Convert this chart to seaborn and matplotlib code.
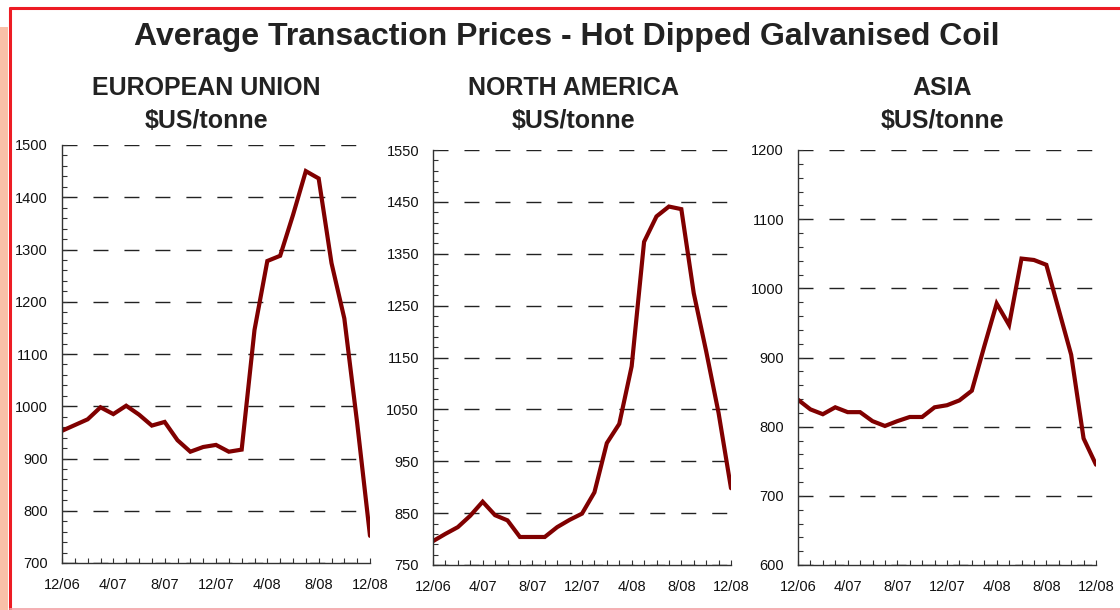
import matplotlib
matplotlib.use("Agg")
import matplotlib.pyplot as plt
import matplotlib.ticker as mticker
import matplotlib.patches as mpatches
import seaborn as sns
import pandas as pd
import numpy as np

months = list(range(25))
tick_positions = [0, 4, 8, 12, 16, 20, 24]
tick_labels = ["12/06", "4/07", "8/07", "12/07", "4/08", "8/08", "12/08"]

eu_prices = [953, 964, 975, 998, 985, 1001, 984, 963, 970, 935, 913, 922, 926,
             913, 917, 1146, 1278, 1288, 1366, 1450, 1436, 1274, 1168, 968, 752]
na_prices = [796, 810, 823, 845, 872, 846, 836, 804, 804, 804, 823, 837, 849,
             890, 985, 1022, 1133, 1373, 1422, 1441, 1436, 1274, 1162, 1043, 898]
asia_prices = [839, 825, 818, 828, 821, 821, 808, 801, 808, 814, 814, 828, 831,
               838, 852, 916, 978, 947, 1043, 1041, 1034, 969, 904, 783, 745]

title = "Average Transaction Prices - Hot Dipped Galvanised Coil"
region_names = ["EUROPEAN UNION", "NORTH AMERICA", "ASIA"]
unit_label = "$US/tonne"

sns.set_theme(style="white")
plt.rcParams["font.family"] = ["Liberation Sans", "DejaVu Sans"]
plt.rcParams["lines.scale_dashes"] = False

fig = plt.figure(figsize=(11.2, 6.1), dpi=100)
fig.patch.set_facecolor("white")

W, H = 1120.0, 610.0

def ax_rect(x0, x1, ytop, ybot):
    return [x0 / W, 1 - ybot / H, (x1 - x0) / W, (ybot - ytop) / H]

panels = [
    (eu_prices, ax_rect(62, 370, 145, 563), (700, 1500), 206),
    (na_prices, ax_rect(433, 731, 150, 565), (750, 1550), 573),
    (asia_prices, ax_rect(798, 1096, 150, 565), (600, 1200), 942),
]

line_color = "#800000"
for (vals, rect, ylim, cx), name in zip(panels, region_names):
    ax = fig.add_axes(rect)
    df = pd.DataFrame({"month": months, "price": vals})
    sns.lineplot(data=df, x="month", y="price", ax=ax, color=line_color,
                 linewidth=3.0, solid_joinstyle="miter")
    ax.set_xlim(0, 24)
    ax.set_ylim(*ylim)
    ax.set_xlabel("")
    ax.set_ylabel("")
    ax.set_facecolor("white")
    lo, hi = ylim
    ax.yaxis.set_major_locator(mticker.FixedLocator(np.arange(lo, hi + 1, 100)))
    ax.yaxis.set_minor_locator(mticker.FixedLocator(np.arange(lo, hi + 1, 20)))
    ax.yaxis.set_major_formatter(mticker.FormatStrFormatter("%d"))
    ax.xaxis.set_major_locator(mticker.FixedLocator(tick_positions))
    ax.xaxis.set_major_formatter(mticker.FixedFormatter(tick_labels))
    ax.xaxis.set_minor_locator(mticker.FixedLocator(months))
    ax.grid(False)
    ax.yaxis.grid(True, which="major", color="#222222", linewidth=1.0,
                  linestyle=(0, (10.8, 11.5)))
    for s in ["top", "right"]:
        ax.spines[s].set_visible(False)
    for s in ["left", "bottom"]:
        ax.spines[s].set_visible(True)
        ax.spines[s].set_color("#333333")
        ax.spines[s].set_linewidth(1.0)
    ax.tick_params(axis="both", which="both", direction="in", color="#333333",
                   width=0.8, length=3.5, labelsize=10.5, labelcolor="#111111",
                   left=True, bottom=True)
    ax.tick_params(axis="y", which="major", pad=10)
    ax.tick_params(axis="x", which="major", pad=11)
    ax.set_axisbelow(True)
    fig.text(cx / W, 1 - 88 / H, name, ha="center", va="center",
             fontsize=18, fontweight="bold", color="#222222")
    fig.text(cx / W, 1 - 121 / H, unit_label, ha="center", va="center",
             fontsize=18, fontweight="bold", color="#222222")

fig.text(567 / W, 1 - 37 / H, title, ha="center", va="center",
         fontsize=23, fontweight="bold", color="#222222")

# decorative frame
fig.patches.append(mpatches.Rectangle((0, 0), 8 / W, 1 - 27 / H,
                                      transform=fig.transFigure,
                                      facecolor="#F9C0A8", edgecolor="none",
                                      zorder=0))
fig.lines.append(plt.Line2D([9.5 / W, 1], [1 - 8 / H, 1 - 8 / H],
                            transform=fig.transFigure, color="#ED1C24",
                            linewidth=2.2))
fig.lines.append(plt.Line2D([9.5 / W, 9.5 / W], [0, 1 - 8 / H],
                            transform=fig.transFigure, color="#ED1C24",
                            linewidth=2.2))
fig.lines.append(plt.Line2D([9.5 / W, 1], [1.5 / H, 1.5 / H],
                            transform=fig.transFigure, color="#F4A0A4",
                            linewidth=1.2))

fig.savefig("out.png", dpi=100, facecolor="white")
